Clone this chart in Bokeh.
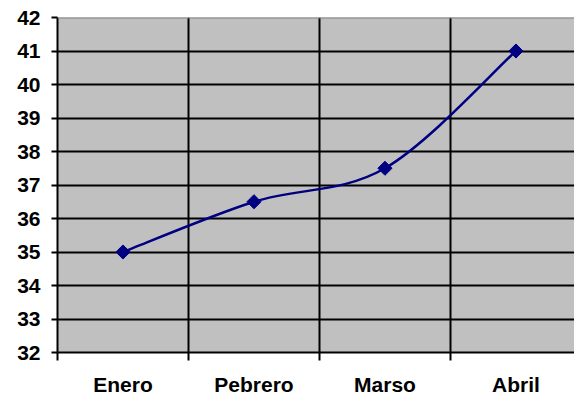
from bokeh.plotting import figure
from bokeh.models import FixedTicker, Range1d, Span
from bokeh.embed import file_html
from bokeh.resources import INLINE

categories = ["Enero", "Pebrero", "Marso", "Abril"]
values = [35, 36.5, 37.5, 41]
y_ticks = list(range(32, 43))

xs = [i + 0.5 for i in range(len(categories))]

p = figure(width=574, height=400, output_backend="svg", toolbar_location=None,
           x_range=Range1d(0, 3.947), y_range=Range1d(32, 42),
           min_border_left=57, min_border_right=0, min_border_top=17, min_border_bottom=48)
p.background_fill_color = "#C0C0C0"
p.border_fill_color = "white"
p.outline_line_color = None

# grids
p.xgrid.ticker = FixedTicker(ticks=[1, 2, 3])
p.ygrid.ticker = FixedTicker(ticks=y_ticks[1:-1])
for g in (p.xgrid[0], p.ygrid[0]):
    g.grid_line_color = "black"
    g.grid_line_width = 2
p.add_layout(Span(location=42, dimension="width", line_color="#808080", line_width=2))

# y axis
ya = p.yaxis[0]
ya.ticker = FixedTicker(ticks=y_ticks)
ya.axis_line_color = "black"
ya.axis_line_width = 2
ya.major_tick_line_width = 2
ya.major_tick_out = 6
ya.major_tick_in = 0
ya.minor_tick_line_color = None
ya.major_label_standoff = 11
ya.major_label_text_font = "Arial"
ya.major_label_text_font_style = "bold"
ya.major_label_text_font_size = "21px"
ya.major_label_text_color = "black"

# x axis
xa = p.xaxis[0]
xa.ticker = FixedTicker(ticks=xs, minor_ticks=[0, 1, 2, 3])
xa.major_label_overrides = {x: c for x, c in zip(xs, categories)}
xa.axis_line_color = "black"
xa.axis_line_width = 2
xa.major_tick_line_color = None
xa.major_tick_out = 0
xa.major_tick_in = 0
xa.minor_tick_line_color = "black"
xa.minor_tick_line_width = 2
xa.minor_tick_out = 8
xa.minor_tick_in = 0
xa.major_label_standoff = 12
xa.major_label_text_font = "Arial"
xa.major_label_text_font_style = "bold"
xa.major_label_text_font_size = "21px"
xa.major_label_text_color = "black"

# smoothed line (Catmull-Rom style bezier segments like Excel)
n = len(values)
x0s, y0s, x1s, y1s, cx0s, cy0s, cx1s, cy1s = [], [], [], [], [], [], [], []
for i in range(n - 1):
    pxm, pym = (xs[i - 1], values[i - 1]) if i > 0 else (xs[i], values[i])
    px0, py0 = xs[i], values[i]
    px1, py1 = xs[i + 1], values[i + 1]
    pxp, pyp = (xs[i + 2], values[i + 2]) if i + 2 < n else (xs[i + 1], values[i + 1])
    x0s.append(px0); y0s.append(py0); x1s.append(px1); y1s.append(py1)
    cx0s.append(px0 + (px1 - pxm) / 6); cy0s.append(py0 + (py1 - pym) / 6)
    cx1s.append(px1 - (pxp - px0) / 6); cy1s.append(py1 - (pyp - py0) / 6)
p.bezier(x0=x0s, y0=y0s, x1=x1s, y1=y1s, cx0=cx0s, cy0=cy0s, cx1=cx1s, cy1=cy1s,
         line_color="#000080", line_width=2.5)

p.scatter(xs, values, marker="square", angle=0.785398, size=10,
          fill_color="#000080", line_color="#000080")

open("out.html", "w").write(file_html(p, INLINE))
